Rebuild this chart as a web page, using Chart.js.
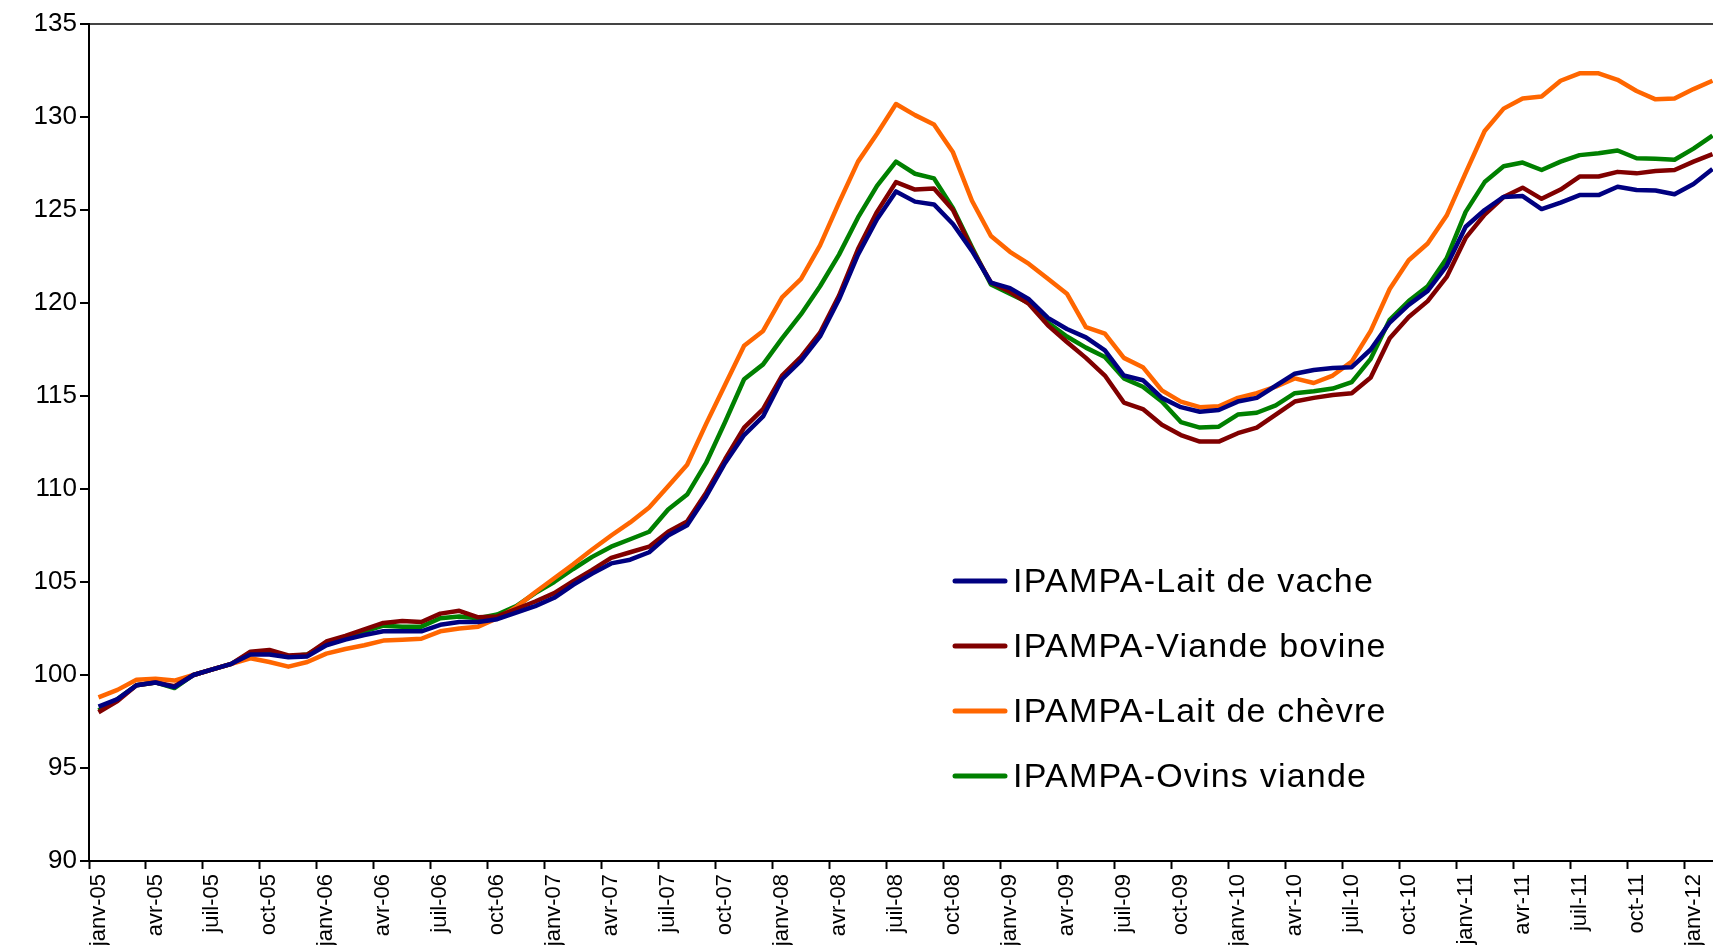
<!DOCTYPE html>
<html>
<head>
<meta charset="utf-8">
<script src="https://cdn.jsdelivr.net/npm/chart.js@4.4.1/dist/chart.umd.min.js"></script>
<style>
  html, body { margin: 0; padding: 0; background: #fff; overflow: hidden; }
  #wrap { position: relative; width: 1722px; height: 945px; }
</style>
</head>
<body>
<div id="wrap"><canvas id="chartjs_ipampa"></canvas></div>
<script>
// mois affichés sur l'axe (un point par mois, janv-05 -> févr-12)
var monthNames = ["janv", "févr", "mars", "avr", "mai", "juin", "juil", "août", "sept", "oct", "nov", "déc"];
var yearNames = ["05", "06", "07", "08", "09", "10", "11", "12"];
var nbMonths = 86;

var seriesNames = ["IPAMPA-Lait de vache", "IPAMPA-Viande bovine", "IPAMPA-Lait de chèvre", "IPAMPA-Ovins viande"];
var seriesColors = ["#000080", "#800000", "#ff6600", "#008000"];

var laitVache = [98.3, 98.7, 99.45, 99.6, 99.35, 100.0, 100.3, 100.6, 101.1, 101.1, 100.95, 101.0,
    101.6, 101.9, 102.15, 102.35, 102.35, 102.35, 102.7, 102.85, 102.85, 103.0, 103.35, 103.7,
    104.15, 104.85, 105.45, 106.0, 106.2, 106.6, 107.5, 108.05, 109.6, 111.4, 112.9, 113.9,
    115.9, 116.9, 118.2, 120.2, 122.6, 124.5, 126.0, 125.45, 125.3, 124.25, 122.8, 121.1,
    120.8, 120.2, 119.2, 118.6, 118.15, 117.45, 116.1, 115.85, 114.9, 114.4, 114.15, 114.25,
    114.7, 114.9, 115.55, 116.2, 116.4, 116.5, 116.55, 117.5, 118.95, 119.9, 120.65, 122.0,
    124.1, 125.0, 125.7, 125.75, 125.05, 125.4, 125.8, 125.8, 126.25, 126.08, 126.05, 125.85,
    126.4, 127.2];
var viandeBovine = [98.0, 98.6, 99.45, 99.6, 99.4, 100.0, 100.3, 100.6, 101.25, 101.35, 101.05, 101.1,
    101.8, 102.1, 102.45, 102.8, 102.9, 102.85, 103.3, 103.45, 103.1, 103.15, 103.55, 103.95,
    104.4, 105.05, 105.65, 106.3, 106.6, 106.9, 107.7, 108.25, 109.8, 111.6, 113.3, 114.3,
    116.1, 117.1, 118.4, 120.4, 122.9, 124.9, 126.5, 126.1, 126.15, 125.0, 122.9, 121.1,
    120.6, 119.95, 118.8, 117.9, 117.05, 116.1, 114.65, 114.3, 113.45, 112.9, 112.55, 112.55,
    113.0, 113.3, 114.0, 114.7, 114.9, 115.05, 115.15, 116.0, 118.1, 119.25, 120.1, 121.4,
    123.5, 124.75, 125.7, 126.2, 125.6, 126.1, 126.8, 126.8, 127.05, 126.97, 127.1, 127.15,
    127.6, 128.0];
var laitChevre = [98.8, 99.2, 99.75, 99.8, 99.7, 100.0, 100.3, 100.6, 100.9, 100.7, 100.45, 100.7,
    101.15, 101.4, 101.6, 101.85, 101.9, 101.95, 102.35, 102.5, 102.6, 103.05, 103.65, 104.45,
    105.2, 105.95, 106.75, 107.5, 108.2, 109.0, 110.15, 111.3, 113.5, 115.6, 117.7, 118.5,
    120.3, 121.3, 123.1, 125.4, 127.6, 129.1, 130.7, 130.1, 129.6, 128.1, 125.5, 123.6,
    122.75, 122.1, 121.3, 120.5, 118.7, 118.35, 117.05, 116.55, 115.3, 114.7, 114.4, 114.45,
    114.9, 115.15, 115.5, 115.95, 115.7, 116.1, 116.85, 118.5, 120.75, 122.3, 123.2, 124.7,
    127.0, 129.25, 130.45, 131.0, 131.1, 131.95, 132.35, 132.35, 132.0, 131.4, 130.95, 131.0,
    131.5, 131.95];
var ovinsViande = [98.1, 98.7, 99.45, 99.6, 99.3, 100.0, 100.3, 100.6, 101.2, 101.15, 101.0, 101.1,
    101.7, 102.0, 102.35, 102.65, 102.6, 102.6, 103.05, 103.15, 103.05, 103.25, 103.7, 104.4,
    105.0, 105.7, 106.35, 106.9, 107.3, 107.7, 108.9, 109.7, 111.4, 113.6, 115.9, 116.7,
    118.1, 119.4, 120.9, 122.6, 124.6, 126.3, 127.6, 126.95, 126.7, 125.1, 123.0, 121.0,
    120.5, 120.0, 118.95, 118.2, 117.6, 117.1, 115.95, 115.5, 114.7, 113.6, 113.3, 113.35,
    114.0, 114.1, 114.5, 115.15, 115.25, 115.4, 115.75, 117.0, 119.1, 120.1, 120.9, 122.4,
    124.9, 126.5, 127.35, 127.55, 127.15, 127.6, 127.95, 128.05, 128.2, 127.78, 127.75, 127.7,
    128.3, 129.0];

var yMin = 90, yMax = 135, yStep = 5;

var categories = [];
for (var m = 0; m < nbMonths; m++) {
    categories.push(monthNames[m % 12] + "-" + yearNames[Math.floor(m / 12)]);
}

// légende dessinée dans la zone du graphique, en bas à droite
var insideLegend = {
    id: 'insideLegend',
    afterDatasetsDraw: function(chart, args, opts) {
        var ctx = chart.ctx;
        ctx.save();
        ctx.font = opts.font;
        if ('letterSpacing' in ctx) ctx.letterSpacing = opts.letterSpacing;
        ctx.textBaseline = 'middle';
        ctx.textAlign = 'left';
        chart.data.datasets.forEach(function(ds, i) {
            var y = opts.y + i * opts.rowGap;
            ctx.strokeStyle = ds.borderColor;
            ctx.lineWidth = 5;
            ctx.lineCap = 'round';
            ctx.beginPath();
            ctx.moveTo(opts.x, y);
            ctx.lineTo(opts.x + opts.lineLen, y);
            ctx.stroke();
            ctx.fillStyle = '#000';
            ctx.fillText(ds.label, opts.x + opts.lineLen + 8, y + 2);
        });
        ctx.restore();
    }
};

var datasets = [laitVache, viandeBovine, laitChevre, ovinsViande].map(function(values, i) {
    return {
        label: seriesNames[i],
        data: values,
        borderColor: seriesColors[i],
        backgroundColor: seriesColors[i],
        borderWidth: 4.5,
        pointRadius: 0,
        tension: 0,
        borderJoinStyle: 'round',
        fill: false
    };
});

var ctx = document.getElementById("chartjs_ipampa").getContext('2d');
var myChart = new Chart(ctx, {
    type: 'line',
    data: {
        labels: categories,
        datasets: datasets
    },
    plugins: [insideLegend],
    options: {
        responsive: true,
        maintainAspectRatio: false,
        animation: false,
        layout: { padding: { top: 24, right: 0, bottom: 0, left: 0 } },
        plugins: {
            legend: { display: false },
            tooltip: { enabled: false },
            insideLegend: {
                x: 955, y: 581, rowGap: 65, lineLen: 50,
                font: '34px "Liberation Sans", Arial, sans-serif',
                letterSpacing: '1.2px'
            }
        },
        scales: {
            x: {
                offset: true,
                afterFit: function(scale) {
                    scale.height = 84;
                    scale.paddingLeft = 0;
                    scale.paddingRight = 0;
                },
                border: { display: true, color: '#000', width: 2 },
                grid: {
                    offset: true,
                    drawOnChartArea: false,
                    drawTicks: true,
                    tickLength: 8,
                    tickWidth: 2,
                    color: 'rgba(0,0,0,0)',
                    tickColor: function(c) {
                        return (c.index !== undefined && c.index % 3 === 0) ? '#000' : 'rgba(0,0,0,0)';
                    }
                },
                ticks: {
                    autoSkip: false,
                    minRotation: 90,
                    maxRotation: 90,
                    padding: 5,
                    color: '#000',
                    font: { family: '"Liberation Sans", Arial, sans-serif', size: 22 },
                    callback: function(val, idx) {
                        return idx % 3 === 0 ? this.getLabelForValue(val) : '';
                    }
                }
            },
            y: {
                min: yMin,
                max: yMax,
                afterFit: function(scale) {
                    scale.width = 89;
                },
                border: { display: true, color: '#000', width: 2 },
                grid: {
                    drawOnChartArea: true,
                    tickLength: 9,
                    lineWidth: 2,
                    color: function(c) {
                        return (c.tick && c.tick.value === yMax) ? '#444' : 'rgba(0,0,0,0)';
                    },
                    tickColor: '#000'
                },
                ticks: {
                    stepSize: yStep,
                    padding: 3,
                    color: '#000',
                    font: { family: '"Liberation Sans", Arial, sans-serif', size: 26 }
                }
            }
        }
    }
});
</script>
</body>
</html>
